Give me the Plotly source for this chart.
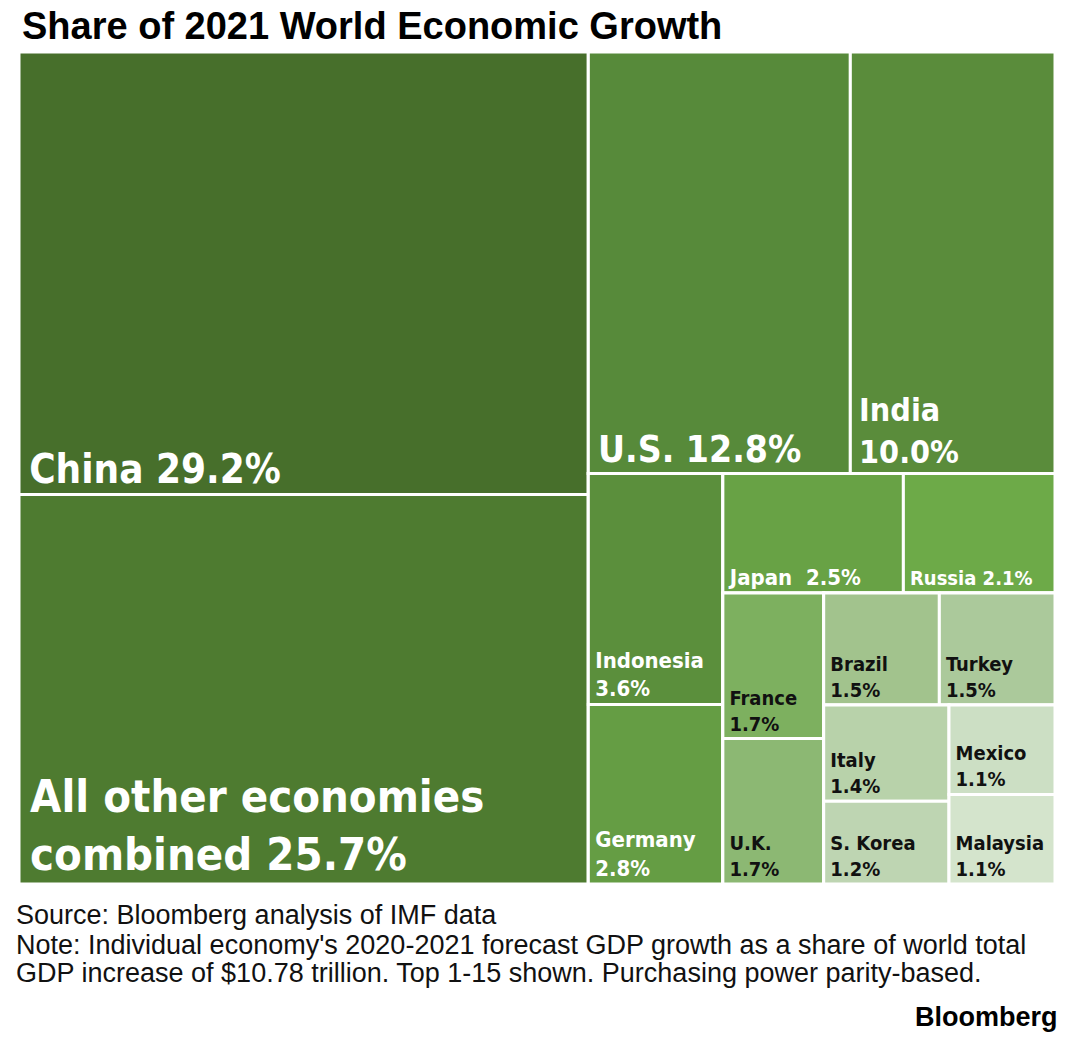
import plotly.graph_objects as go

# ---- data ----
economies = ["China", "All other economies combined", "U.S.", "India", "Indonesia",
             "Germany", "Japan", "Russia", "France", "U.K.", "Brazil", "Turkey",
             "Italy", "S. Korea", "Mexico", "Malaysia"]
shares = [29.2, 25.7, 12.8, 10.0, 3.6, 2.8, 2.5, 2.1, 1.7, 1.7, 1.5, 1.5, 1.4, 1.2, 1.1, 1.1]
label_text = ["China 29.2%", "All other economies<br>combined 25.7%", "U.S. 12.8%",
              "India<br>10.0%", "Indonesia<br>3.6%", "Germany<br>2.8%", "Japan  2.5%",
              "Russia 2.1%", "France<br>1.7%", "U.K.<br>1.7%", "Brazil<br>1.5%",
              "Turkey<br>1.5%", "Italy<br>1.4%", "S. Korea<br>1.2%", "Mexico<br>1.1%",
              "Malaysia<br>1.1%"]
# grouping of the tiles (which economies sit together in a block)
leaf_parent = ["g_left", "g_left", "g_ui", "g_ui", "g_ig", "g_ig", "g_jr", "g_jr",
               "g_fu", "g_fu", "g_bt", "g_bt", "g_ik", "g_ik", "g_mm", "g_mm"]
group_ids = ["World", "g_left", "g_right", "g_ui", "g_b", "g_ig", "g_b2", "g_jr", "g_b3",
             "g_fu", "g_b4", "g_bt", "g_b5", "g_ik", "g_mm"]
group_parent = ["", "World", "World", "g_right", "g_right", "g_b", "g_b", "g_b2", "g_b2",
                "g_b3", "g_b3", "g_b4", "g_b4", "g_b5", "g_b5"]

# ---- styles ----
tile_colors = ["#476F2B", "#4E7B30", "#578A3A", "#5A8C3B", "#5B8F3C", "#659D44",
               "#68A245", "#6DAA48", "#7DB05F", "#8CB873", "#A2C38D", "#ABC99B",
               "#B8D2AA", "#BED5B2", "#CCDFC4", "#D4E4CC"]
text_sizes = [40, 45, 37, 32, 22, 22, 22, 20, 20, 20, 20, 20, 20, 20, 20, 20]
text_colors = ["#FFFFFF"] * 8 + ["#111111"] * 8
lead = "\u2009"  # thin space used as a small left inset for labels

# order nodes so that each block precedes its sibling block
order = [("World", None), ("g_left", None), (None, 0), (None, 1), ("g_right", None),
         ("g_ui", None), (None, 2), (None, 3), ("g_b", None), ("g_ig", None), (None, 4),
         (None, 5), ("g_b2", None), ("g_jr", None), (None, 6), (None, 7), ("g_b3", None),
         ("g_fu", None), (None, 8), (None, 9), ("g_b4", None), ("g_bt", None), (None, 10),
         (None, 11), ("g_b5", None), ("g_ik", None), (None, 12), (None, 13),
         ("g_mm", None), (None, 14), (None, 15)]

ids, parents, values, colors, texts, sizes, tcolors = [], [], [], [], [], [], []
for g, i in order:
    if g is not None:
        k = group_ids.index(g)
        ids.append(g); parents.append(group_parent[k]); values.append(0)
        colors.append("#FFFFFF"); texts.append(""); sizes.append(12); tcolors.append("#FFFFFF")
    else:
        ids.append(economies[i]); parents.append(leaf_parent[i]); values.append(shares[i])
        colors.append(tile_colors[i])
        texts.append("<br>".join(lead + part for part in label_text[i].split("<br>")))
        sizes.append(text_sizes[i]); tcolors.append(text_colors[i])

W, H = 1079, 1038
def px_x(x): return x / W
def px_y(y): return 1 - y / H

fig = go.Figure(go.Treemap(
    ids=ids, labels=ids, parents=parents, values=values,
    branchvalues="remainder", sort=False,
    text=texts, texttemplate="%{text}", textposition="bottom left",
    textfont=dict(family="DejaVu Sans Condensed, DejaVu Sans", size=sizes, color=tcolors,
                  weight="bold"),
    marker=dict(colors=colors, line=dict(color="#FFFFFF", width=3),
                pad=dict(t=0, l=0, r=0, b=0)),
    tiling=dict(packing="slice-dice", pad=0),
    pathbar=dict(visible=False),
    hoverinfo="skip",
    domain=dict(x=[px_x(19), px_x(1055)], y=[px_y(884), px_y(52)]),
))

annotations = [
    dict(text="<b>Share of 2021 World Economic Growth</b>", x=px_x(20), y=px_y(26),
         xanchor="left", yanchor="middle",
         font=dict(family="Liberation Sans, Arial", size=38, color="#000000")),
    dict(text="Source: Bloomberg analysis of IMF data", x=px_x(14), y=px_y(915),
         xanchor="left", yanchor="middle",
         font=dict(family="Liberation Sans, Arial", size=27, color="#111111")),
    dict(text="Note: Individual economy's 2020-2021 forecast GDP growth as a share of world total",
         x=px_x(14), y=px_y(945), xanchor="left", yanchor="middle",
         font=dict(family="Liberation Sans, Arial", size=27, color="#111111")),
    dict(text="GDP increase of $10.78 trillion. Top 1-15 shown. Purchasing power parity-based.",
         x=px_x(14), y=px_y(973), xanchor="left", yanchor="middle",
         font=dict(family="Liberation Sans, Arial", size=27, color="#111111")),
    dict(text="<b>Bloomberg</b>", x=px_x(1060), y=px_y(1017), xanchor="right", yanchor="middle",
         font=dict(family="Liberation Sans, Arial", size=27, color="#000000")),
]
for a in annotations:
    a.update(xref="paper", yref="paper", showarrow=False)

fig.update_layout(
    width=W, height=H, margin=dict(l=0, r=0, t=0, b=0),
    paper_bgcolor="#FFFFFF", plot_bgcolor="#FFFFFF",
    annotations=annotations, showlegend=False,
)
# remove the default page margin so the figure fills the window exactly
fig.write_html("out.html", config={"displayModeBar": False},
               post_script="document.body.style.margin='0';")
